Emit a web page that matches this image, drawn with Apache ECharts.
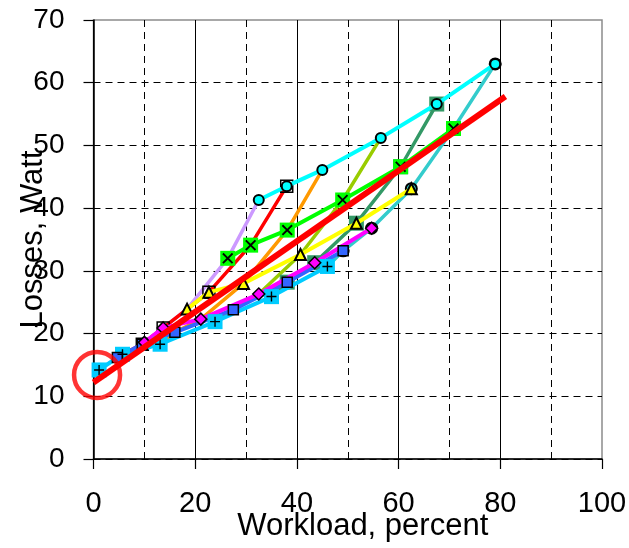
<!DOCTYPE html>
<html><head><meta charset="utf-8">
<script src="https://cdn.jsdelivr.net/npm/echarts@6/dist/echarts.min.js"></script>
<style>html,body{margin:0;padding:0;background:#fff}#c{width:629px;height:548px}</style>
</head><body><div id="c"></div>
<script>
// Marker rows (bottom to top), x = workload %, y = losses W
const skyX = [1.1, 5.7, 13.1, 23.9, 35.0, 46.0];
const skyY = [14.2, 16.7, 18.3, 21.9, 25.9, 30.7];
const blueX = [4.7, 9.6, 16.0, 27.5, 38.1, 49.1];
const blueY = [16.2, 18.3, 20.2, 23.8, 28.2, 33.2];
const magentaX = [10.0, 13.7, 21.1, 32.5, 43.5, 54.7];
const magentaY = [18.6, 20.9, 22.3, 26.3, 31.3, 36.8];
const yellowX = [18.4, 22.7, 29.5, 40.7, 51.7, 62.5];
const yellowY = [23.9, 26.6, 28.0, 32.6, 37.6, 43.1];
const greenX = [26.4, 30.9, 38.1, 49.0, 60.4, 70.8];
const greenY = [32.0, 34.1, 36.5, 41.3, 46.6, 52.7];
const cyanX = [32.5, 38.0, 45.0, 56.5, 67.5, 79.0];
const cyanY = [41.3, 43.5, 46.1, 51.2, 56.6, 63.0];
// Linear trend and highlighted intercept
const trendX = [0, 81];
const trendY = [12.2, 57.8];
const circleX = [0.7];
const circleY = [13.4];

const FONT = 'Liberation Sans, Arial, sans-serif';
const zip = (xs, ys) => xs.map((x, i) => [x, ys[i]]);
const rowsX = [skyX, blueX, magentaX, yellowX, greenX, cyanX];
const rowsY = [skyY, blueY, magentaY, yellowY, greenY, cyanY];
const fanColors = ['#CC99FF', '#FF0000', '#FF9900', '#99CC00', '#339966', '#33CCCC'];
const fanSym = [
  {symbol: 'none'},
  {symbol: 'rect', symbolSize: 12, itemStyle: {color: 'transparent', borderColor: '#000', borderWidth: 1.5}},
  {symbol: 'none'},
  {symbol: 'none'},
  {symbol: 'rect', symbolSize: 15, itemStyle: {color: '#339966', borderWidth: 0}},
  {symbol: 'circle', symbolSize: 11, itemStyle: {color: '#33CCCC', borderColor: '#000', borderWidth: 2}}
];
const series = [];
for (let j = 0; j < 6; j++) {
  const data = rowsX.map((xs, r) => [xs[j], rowsY[r][j]]);
  const s = Object.assign({
    type: 'line', data: data, showSymbol: true, animation: false, z: 2,
    itemStyle: {color: fanColors[j]}
  }, fanSym[j]);
  if (s.symbol === 'none') s.showSymbol = false;
  s.lineStyle = {color: fanColors[j], width: 3.5};
  series.push(s);
}
const XPATH = 'path://M0,1.2L1.2,0L5,3.8L8.8,0L10,1.2L6.2,5L10,8.8L8.8,10L5,6.2L1.2,10L0,8.8L3.8,5Z';
const PPATH = 'path://M4.3,0H5.7V4.3H10V5.7H5.7V10H4.3V5.7H0V4.3H4.3Z';
function rowLine(xs, ys, color, sym, size, fill, bw) {
  return {type: 'line', data: zip(xs, ys), symbol: sym, symbolSize: size, animation: false, z: 3,
    lineStyle: {color: color, width: 4},
    itemStyle: {color: fill, borderColor: '#000', borderWidth: bw}};
}
series.push(rowLine(skyX, skyY, '#00CCFF', 'rect', 15, '#00CCFF', 0));
series.push(rowLine(blueX, blueY, '#3366FF', 'rect', 10, '#3366FF', 1.5));
series.push(rowLine(magentaX, magentaY, '#FF00FF', 'diamond', 12, '#FF00FF', 1.5));
series.push(rowLine(yellowX, yellowY, '#FFFF00', 'triangle', 11, '#FFFF00', 2));
series.push(rowLine(greenX, greenY, '#00FF00', 'rect', 15, '#00FF00', 0));
series.push(rowLine(cyanX, cyanY, '#00FFFF', 'circle', 10, '#00FFFF', 2));
// X and + glyphs drawn on top of the square marker backgrounds
series.push({type: 'scatter', data: zip(greenX, greenY), symbol: XPATH, symbolSize: 11, animation: false, z: 10,
  itemStyle: {color: '#000', opacity: 1}});
series.push({type: 'scatter', data: zip(skyX, skyY), symbol: PPATH, symbolSize: 10, animation: false, z: 10,
  itemStyle: {color: '#000', opacity: 1}});
series.push({type: 'line', data: zip(trendX, trendY), symbol: 'none', animation: false, z: 11,
  lineStyle: {color: '#FF0000', width: 6}});
series.push({type: 'scatter', data: zip(circleX, circleY), symbol: 'circle', symbolSize: 46, animation: false, z: 12,
  itemStyle: {color: 'transparent', borderColor: '#FF0000', borderWidth: 4.5}});

const chart = echarts.init(document.getElementById('c'), null, {renderer: 'canvas'});
chart.setOption({
  animation: false,
  grid: {left: 93.5, right: 27, top: 20, bottom: 89, show: true, borderColor: '#8c8c8c', borderWidth: 1.5,
    containLabel: false, outerBoundsMode: 'none'},
  xAxis: {
    type: 'value', min: 0, max: 100, interval: 20,
    name: 'Workload, percent', nameLocation: 'middle', nameGap: 52, nameMoveOverlap: false,
    nameTextStyle: {fontFamily: FONT, fontSize: 31, color: '#000', padding: [0, 0, 0, 30]},
    axisLine: {show: true, lineStyle: {color: '#000', width: 1.5}},
    axisTick: {show: true, length: 10, lineStyle: {color: '#000', width: 1.2}},
    axisLabel: {fontFamily: FONT, fontSize: 29, color: '#000', margin: 30},
    splitLine: {show: true, showMaxLine: false, lineStyle: {color: '#000', width: 1}},
    minorTick: {show: false, splitNumber: 2},
    minorSplitLine: {show: true, lineStyle: {color: '#000', width: 1, type: [7, 5]}}
  },
  yAxis: {
    type: 'value', min: 0, max: 70, interval: 10,
    name: 'Losses, Watt', nameLocation: 'middle', nameRotate: 90, nameGap: 45, nameMoveOverlap: false,
    nameTextStyle: {fontFamily: FONT, fontSize: 31, color: '#000'},
    axisLine: {show: true, lineStyle: {color: '#000', width: 1.5}},
    axisTick: {show: true, length: 10, lineStyle: {color: '#000', width: 1.2}},
    axisLabel: {fontFamily: FONT, fontSize: 28, color: '#000', margin: 29},
    splitLine: {show: true, showMaxLine: false, lineStyle: {color: '#000', width: 1, type: [7, 5]}}
  },
  series: series
});
</script></body></html>
